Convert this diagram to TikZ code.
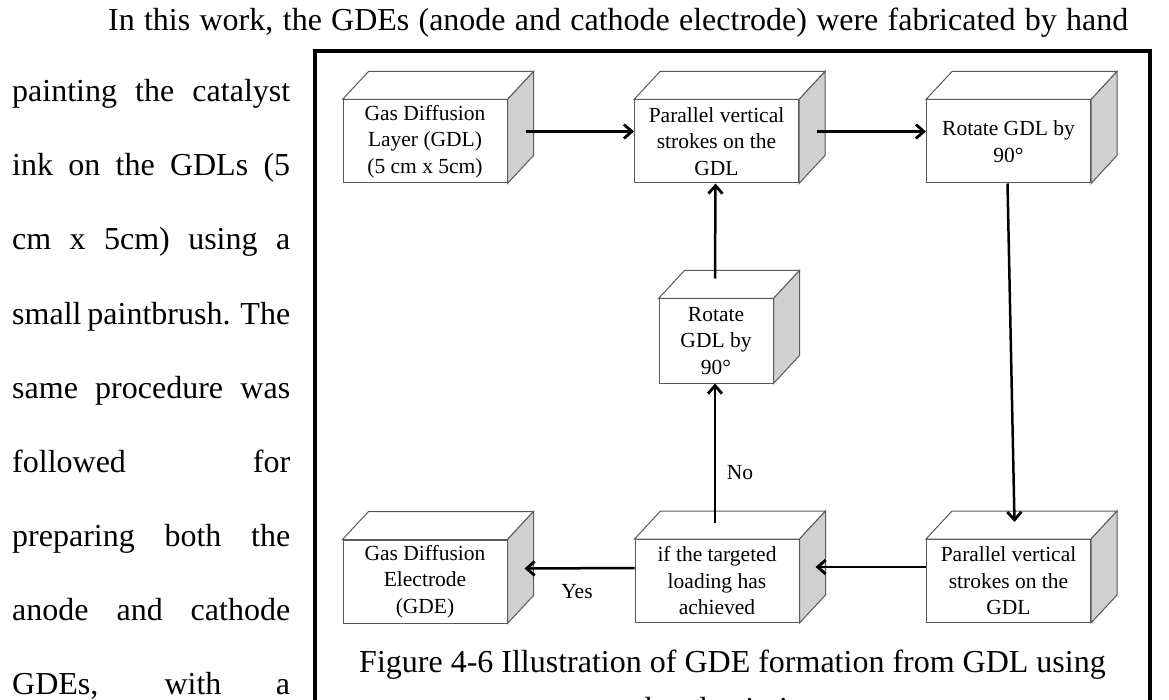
\documentclass[tikz,border=0pt]{standalone}
\usepackage{fontspec}
\setmainfont{Liberation Serif}
\usetikzlibrary{calc,arrows.meta}

\definecolor{edgegray}{HTML}{5A5A5A}
\definecolor{sidegray}{HTML}{D0D0D0}

\begin{document}
\begin{tikzpicture}[x=1pt, y=-1pt,
    body/.style={inner sep=0, font=\fontsize{32}{40}\selectfont},
    stepbox/.style={draw=edgegray, line width=1, fill=white, inner sep=0, align=center,
        minimum width=164, minimum height=83, font=\fontsize{21.5}{26.5}\selectfont},
    face/.style={draw=edgegray, line width=1, fill=white},
    flow/.style={line width=2.5, -{Straight Barb[length=8pt,width=14pt,line width=2.8pt]}},
    tag/.style={inner sep=0, font=\fontsize{21.5}{26.5}\selectfont}]
    \useasboundingbox (0,0) rectangle (1169,700);

    % running text round the figure
    \node[body, anchor=base west] (first) at (108,31)
        {\makebox[1020pt][s]{In this work, the GDEs (anode and cathode electrode) were fabricated by hand}};
    \foreach \t [count=\i from 0] in {painting the catalyst, {ink on the GDLs (5}, {cm x 5cm) using a},
        small paintbrush. The, same procedure was, followed for, preparing both the,
        anode and cathode, {GDEs, with a}}
        {\node[body, anchor=base west] (line\i) at (12,{102+74*\i}) {\makebox[278pt][s]{\t}};}

    % figure frame
    \draw[line width=3.5] (315,720) -- (315,51) -- (1150,51) -- (1150,720);

    % front faces of the steps
    \node[stepbox] (gdl) at (425,141.5) {Gas Diffusion\\Layer (GDL)\\(5 cm x 5cm)};
    \node[stepbox] (strokeA) at (716.5,141.5) {Parallel vertical\\strokes on the\\GDL};
    \node[stepbox] (rotA) at (1008.5,141.5) {Rotate GDL by\\90°};
    \node[stepbox, minimum width=114, minimum height=84] (rotB) at (716,341) {Rotate\\GDL by\\90°};
    \node[stepbox] (gde) at (425,581.5) {Gas Diffusion\\Electrode\\(GDE)};
    \node[stepbox] (check) at (717,581) {if the targeted\\loading has\\achieved};
    \node[stepbox] (strokeB) at (1008.5,581) {Parallel vertical\\strokes on the\\GDL};

    % top and side faces
    \foreach \b in {gdl,strokeA,rotA,rotB,gde,check,strokeB} {
        \draw[face] (\b.north west) -- ++(26,-28) -- ($(\b.north east)+(26,-28)$) -- (\b.north east) -- cycle;
        \draw[face, fill=sidegray] (\b.north east) -- ++(26,-28) -- ($(\b.south east)+(26,-28)$) -- (\b.south east) -- cycle;
    }

    % connectors
    \draw[flow] ($(gdl.east)+(18,-10)$) -- ($(strokeA.west)+(0,-10)$);
    \draw[flow] ($(strokeA.east)+(18,-10)$) -- ($(rotA.west)+(0,-10)$);
    \draw[flow] ($(rotA.south)+(-1,0)$) -- ($(strokeB.north)+(6,-17)$);
    \draw[flow] ($(strokeB.west)+(0,-14)$) -- ($(check.east)+(16,-14)$);
    \draw[flow] ($(check.west)+(0,-13)$) -- ($(gde.east)+(17,-13)$);
    \draw[flow] ($(check.north)+(-2,-16)$) -- ($(rotB.south)+(-1,0)$);
    \draw[flow] ($(rotB.north)+(-1,-20)$) -- ($(strokeA.south)+(-1,0)$);
    \node[tag] (yes) at (577,592) {Yes};
    \node[tag] (no) at (740,473) {No};

    % caption
    \node[body, anchor=base] (cap) at (732.5,672) {Figure 4-6 Illustration of GDE formation from GDL using};
    \node[body, anchor=base] (capb) at (732.5,719) {hand painting};
\end{tikzpicture}
\end{document}
